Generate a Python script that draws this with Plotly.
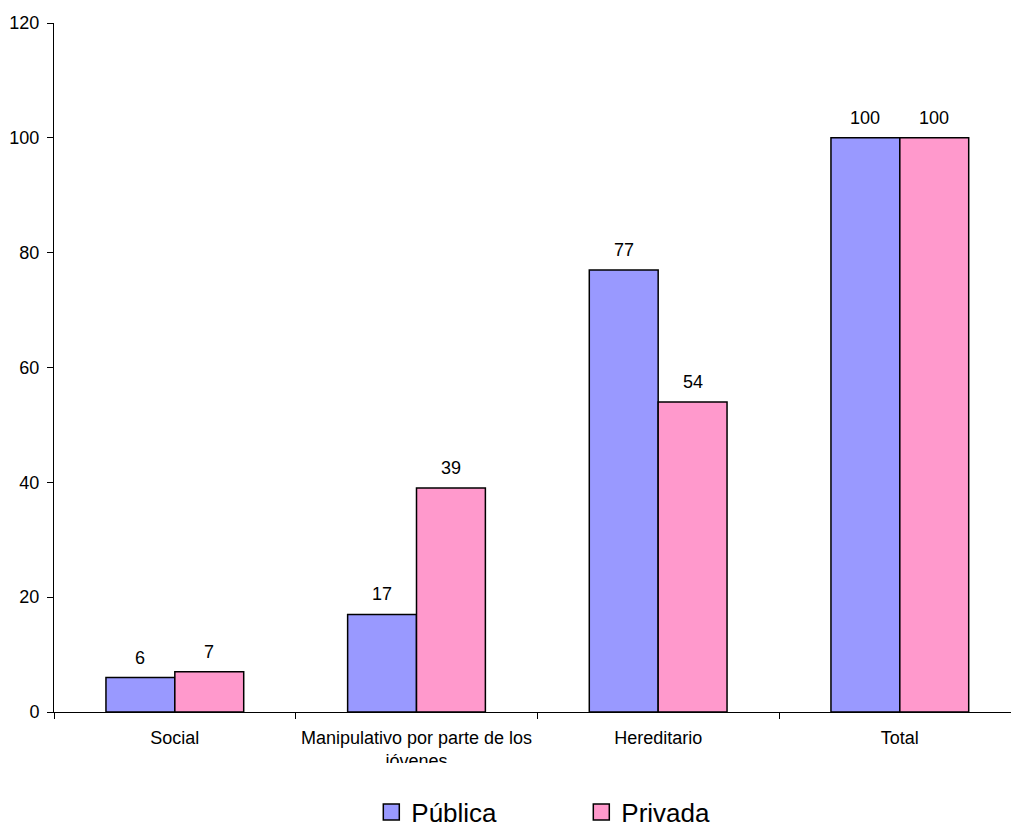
import plotly.graph_objects as go

categories = ["Social", "Manipulativo por parte de los<br>jóvenes", "Hereditario", "Total"]
publica = [6, 17, 77, 100]
privada = [7, 39, 54, 100]
y_ticks = [0, 20, 40, 60, 80, 100, 120]

FONT = "Liberation Sans, Arial, sans-serif"
C_PUB = "#9999FF"
C_PRI = "#FF99CC"
BARGAP = 0.43
X_RANGE = [-0.5, 3.46]
PLOT_W = 1011 - 54

fig = go.Figure()
fig.add_trace(go.Bar(
    x=categories, y=publica, name="Pública", showlegend=False,
    marker=dict(color=C_PUB, line=dict(color="black", width=1.5)),
))
fig.add_trace(go.Bar(
    x=categories, y=privada, name="Privada", showlegend=False,
    marker=dict(color=C_PRI, line=dict(color="black", width=1.5)),
))
# legend entries with square markers
for name, col in [("Pública", C_PUB), ("Privada", C_PRI)]:
    fig.add_trace(go.Scatter(
        x=[None], y=[None], mode="markers", name=name,
        marker=dict(symbol="square", size=17, color=col, line=dict(color="black", width=1.5)),
    ))

# value labels above bars
cat_px = PLOT_W / (X_RANGE[1] - X_RANGE[0])
half_bar = cat_px * (1 - BARGAP) / 4
annotations = []
for vals, sign in [(publica, -1), (privada, 1)]:
    for c, v in zip(categories, vals):
        annotations.append(dict(
            x=c, y=v, xref="x", yref="y", text=str(v), showarrow=False,
            xshift=sign * half_bar, yshift=8, yanchor="bottom",
            font=dict(family=FONT, size=18, color="black"),
        ))

fig.update_layout(
    width=1011, height=829,
    margin=dict(l=54, r=0, t=23, b=117),
    paper_bgcolor="white", plot_bgcolor="white",
    barmode="group", bargap=BARGAP, bargroupgap=0,
    font=dict(family=FONT, size=18, color="black"),
    showlegend=True,
    legend=dict(orientation="h", x=0.551, y=0.0205, xanchor="center", yanchor="middle",
                yref="container",
                font=dict(family=FONT, size=26, color="black"),
                entrywidth=165),
    annotations=annotations,
    shapes=[dict(type="rect", xref="paper", yref="paper", x0=0.25, x1=0.52,
                 y0=-0.074, y1=-0.115, fillcolor="white", line=dict(width=0), layer="above")],
)
fig.update_xaxes(
    range=X_RANGE, showline=True, linecolor="black", linewidth=1,
    ticks="outside", ticklen=6, tickcolor="black", tickson="boundaries",
    ticklabelstandoff=9,
    showgrid=False, automargin=False, tickfont=dict(family=FONT, size=18, color="black"),
)
fig.update_yaxes(
    range=[0, 120], tickvals=y_ticks, showline=True, linecolor="black", linewidth=1,
    ticks="outside", ticklen=6, tickcolor="black", showgrid=False, zeroline=False,
    ticklabelstandoff=4,
    automargin=False, tickfont=dict(family=FONT, size=18, color="black"),
)

fig.write_html("out.html", config={"displayModeBar": False},
               post_script="document.body.style.margin='0';")
